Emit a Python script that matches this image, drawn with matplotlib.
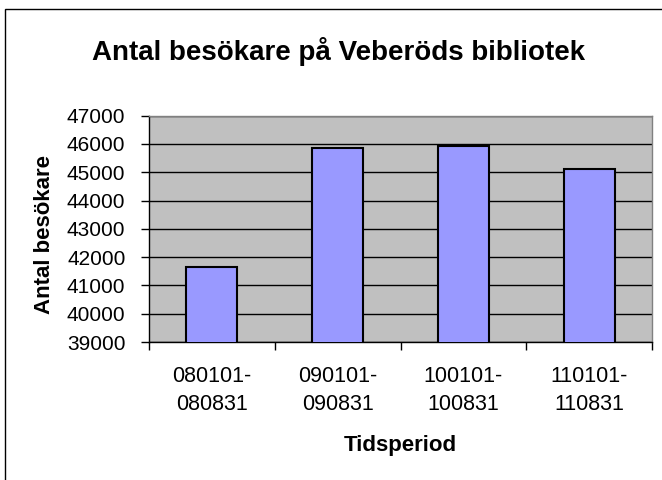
import matplotlib
matplotlib.use("Agg")
import matplotlib.pyplot as plt
from matplotlib.patches import Rectangle
import numpy as np

categories = ["080101-\n080831", "090101-\n090831", "100101-\n100831", "110101-\n110831"]
values = [41650, 45870, 45940, 45130]
yticks = [39000, 40000, 41000, 42000, 43000, 44000, 45000, 46000, 47000]

plt.rcParams['font.family'] = ['Liberation Sans', 'DejaVu Sans']

W, H = 662, 480
fig = plt.figure(figsize=(W / 100, H / 100), dpi=100)
fig.patch.set_facecolor('white')

ax = fig.add_axes([149 / W, 1 - 342 / H, (652 - 149) / W, (342 - 115.7) / H])
ax.set_facecolor('#C0C0C0')
x = np.arange(len(categories))
ax.bar(x, values, width=0.405, color='#9999FF', edgecolor='black', linewidth=1.5, zorder=3)

ax.set_xlim(-0.5, len(categories) - 0.5)
ax.set_ylim(39000, 47000)
ax.set_yticks(yticks)
ax.set_yticklabels([str(v) for v in yticks], fontsize=15)
ax.yaxis.grid(True, color='black', linewidth=1.0, zorder=1)
ax.set_axisbelow(True)

ax.set_xticks(x)
ax.set_xticklabels(categories, fontsize=15.5, linespacing=1.4)
ax.set_xticks(np.arange(-0.5, len(categories)), minor=True)
ax.tick_params(axis='x', which='major', length=0, pad=17.5)
ax.tick_params(axis='x', which='minor', length=6, width=1, direction='out', color='black')
ax.tick_params(axis='y', length=6, width=1, direction='out', pad=11, color='black')

for s in ['top', 'right']:
    ax.spines[s].set_color('#808080')
    ax.spines[s].set_linewidth(1.0)
for s in ['left', 'bottom']:
    ax.spines[s].set_color('black')
    ax.spines[s].set_linewidth(1.0)

fig.text(339 / W, 1 - 60 / H, "Antal besökare på Veberöds bibliotek",
         fontsize=20, fontweight='bold', ha='center', va='baseline')
fig.text(45 / W, 1 - 234 / H, "Antal besökare", fontsize=16, fontweight='bold',
         rotation=90, ha='center', va='center')
fig.text(400 / W, 1 - 446 / H, "Tidsperiod", fontsize=16, fontweight='bold',
         ha='center', va='center')

frame = Rectangle((5 / W, -0.1), 1.2, (1 - 9 / H) + 0.1, transform=fig.transFigure,
                  fill=False, edgecolor='black', linewidth=1.0, clip_on=False)
fig.add_artist(frame)

fig.savefig("out.png", dpi=100)
